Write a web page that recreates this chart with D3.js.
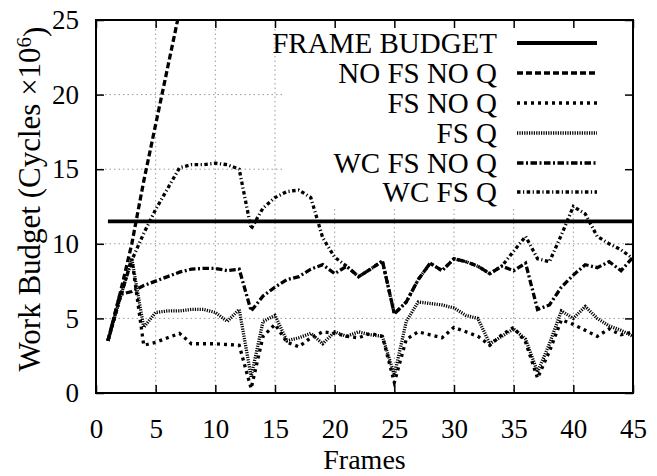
<!DOCTYPE html>
<html><head><meta charset="utf-8">
<script src="https://cdn.jsdelivr.net/npm/d3@7"></script>
<style>
html,body{margin:0;padding:0;background:#fff;}
</style></head>
<body><svg id="c" width="657" height="476"></svg>
<script>
const frames = [1,2,3,4,5,6,7,8,9,10,11,12,13,14,15,16,17,18,19,20,21,22,23,24,25,26,27,28,29,30,31,32,33,34,35,36,37,38,39,40,41,42,43,44,45];
const frameBudget = [11.5,11.5,11.5,11.5,11.5,11.5,11.5,11.5,11.5,11.5,11.5,11.5,11.5,11.5,11.5,11.5,11.5,11.5,11.5,11.5,11.5,11.5,11.5,11.5,11.5,11.5,11.5,11.5,11.5,11.5,11.5,11.5,11.5,11.5,11.5,11.5,11.5,11.5,11.5,11.5,11.5,11.5,11.5,11.5,11.5];
const noFsNoQ = [3.5,6.6,10.0,14.2,18.0,21.8,25.6,29.4];
const fsNoQ = [3.5,6.3,9.0,3.2,3.4,3.7,4.0,3.3,3.3,3.3,3.25,3.2,0.3,3.8,4.6,3.4,3.1,3.7,4.1,4.0,3.8,3.7,4.0,3.8,0.7,3.6,4.1,3.9,3.7,4.4,4.1,3.8,3.2,3.9,4.4,3.4,1.0,2.8,4.9,4.6,4.2,3.8,4.3,3.9,4.1];
const fsQ = [3.5,6.3,9.0,4.4,5.4,5.5,5.5,5.6,5.6,5.4,4.8,5.6,1.1,4.8,5.2,3.5,3.7,4.0,3.3,4.1,3.8,4.1,3.9,3.8,1.2,4.8,6.1,6.0,5.9,5.7,5.2,5.0,3.3,3.8,4.3,3.6,1.4,3.3,5.5,5.0,5.8,5.0,4.5,4.2,3.8];
const wcFsNoQ = [3.5,6.6,6.8,7.2,7.5,7.8,8.1,8.3,8.35,8.35,8.2,8.3,5.5,6.5,7.1,7.6,7.8,8.3,8.6,8.0,8.5,7.8,8.3,8.85,5.3,6.1,7.6,8.7,8.2,9.0,8.8,8.5,8.0,8.5,8.2,8.7,5.6,5.9,7.1,7.9,8.6,8.4,8.8,8.2,9.1];
const wcFsQ = [3.5,6.4,8.9,10.7,12.3,13.7,15.1,15.3,15.3,15.4,15.3,15.0,11.0,12.4,13.1,13.5,13.6,13.1,10.4,9.1,8.5,7.8,8.3,8.85,5.3,6.1,7.6,8.7,8.2,9.0,8.8,8.5,8.0,8.5,9.5,10.5,9.0,8.8,10.6,12.5,12.0,10.5,10.0,9.6,9.0];
const seriesNames = ["FRAME BUDGET","NO FS NO Q","FS NO Q","FS Q","WC FS NO Q","WC FS Q"];
const xTicks = [0,5,10,15,20,25,30,35,40,45];
const yTicks = [0,5,10,15,20,25];

const seriesData = [frameBudget, noFsNoQ, fsNoQ, fsQ, wcFsNoQ, wcFsQ];
const styles = [
  {w:3.8, dash:null},
  {w:3.3, dash:"6,3"},
  {w:3.3, dash:"3,4"},
  {w:3.3, dash:"1.2,1.2"},
  {w:3.3, dash:"6.5,2.5,2,2.5"},
  {w:3.3, dash:"3.5,2.5,1.2,2.5"}
];
const FONT = "Liberation Serif, Times New Roman, serif";

const svg = d3.select("#c");
const L=96, R=633, T=20, B=393;
const x = d3.scaleLinear().domain([0,45]).range([L,R]);
const y = d3.scaleLinear().domain([0,25]).range([B,T]);

// grid
const grid = svg.append("g").attr("stroke","#9a9a9a").attr("stroke-width",1).attr("stroke-dasharray","1.5,3");
xTicks.slice(1,-1).forEach(t=>grid.append("line").attr("x1",x(t)).attr("x2",x(t)).attr("y1",T).attr("y2",B));
yTicks.slice(1,-1).forEach(t=>grid.append("line").attr("x1",L).attr("x2",R).attr("y1",y(t)).attr("y2",y(t)));

// key background (hides grid)
svg.append("rect").attr("x",285).attr("y",T+1).attr("width",R-285-1).attr("height",187).attr("fill","#fff");

// lines
svg.append("clipPath").attr("id","clip").append("rect").attr("x",L).attr("y",T).attr("width",R-L).attr("height",B-T);
const line = d3.line().x((d,i)=>x(frames[i])).y(d=>y(d));
const lg = svg.append("g").attr("clip-path","url(#clip)");
seriesData.forEach((s,k)=>{
  lg.append("path").attr("d",line(s)).attr("fill","none").attr("stroke","#000")
    .attr("stroke-width",styles[k].w).attr("stroke-dasharray",styles[k].dash)
    .attr("stroke-linejoin","miter").attr("stroke-linecap","butt");
});

// axes
const tfs = 27;
const gx = svg.append("g").attr("transform",`translate(0,${B})`)
  .call(d3.axisBottom(x).tickValues(xTicks).tickSize(-8).tickPadding(26));
const gxt = svg.append("g").attr("transform",`translate(0,${T})`)
  .call(d3.axisTop(x).tickValues(xTicks).tickSize(-8).tickFormat(""));
const gy = svg.append("g").attr("transform",`translate(${L},0)`)
  .call(d3.axisLeft(y).tickValues(yTicks).tickSize(-8).tickPadding(17));
const gyr = svg.append("g").attr("transform",`translate(${R},0)`)
  .call(d3.axisRight(y).tickValues(yTicks).tickSize(-8).tickFormat(""));
[gx,gxt,gy,gyr].forEach(g=>{
  g.attr("font-family",FONT).attr("font-size",tfs);
  g.select(".domain").remove();
  g.selectAll(".tick line").attr("stroke","#000").attr("stroke-width",1.5);
  g.selectAll(".tick text").attr("fill","#000");
});
svg.append("rect").attr("x",L).attr("y",T).attr("width",R-L).attr("height",B-T)
  .attr("fill","none").attr("stroke","#000").attr("stroke-width",2);

// axis titles
svg.append("text").attr("x",(L+R)/2).attr("y",469).attr("text-anchor","middle")
  .attr("font-family",FONT).attr("font-size",28).text("Frames");
const yl = svg.append("text").attr("transform",`translate(40,199) rotate(-90)`)
  .attr("text-anchor","middle").attr("font-family",FONT).attr("font-size",31);
yl.append("tspan").text("Work Budget (Cycles \u00d710");
yl.append("tspan").attr("dy","-0.45em").attr("font-size",21).text("6");
yl.append("tspan").attr("dy","0.45em").text(")");

// legend
const rows = [43,73,103,133,163,192];
seriesNames.forEach((n,k)=>{
  svg.append("text").attr("x",497).attr("y",rows[k]).attr("dy","0.34em")
    .attr("text-anchor","end").attr("font-family",FONT).attr("font-size",29).text(n);
  svg.append("line").attr("x1",517).attr("x2",597).attr("y1",rows[k]).attr("y2",rows[k])
    .attr("stroke","#000").attr("stroke-width",styles[k].w).attr("stroke-dasharray",styles[k].dash);
});
</script></body></html>
